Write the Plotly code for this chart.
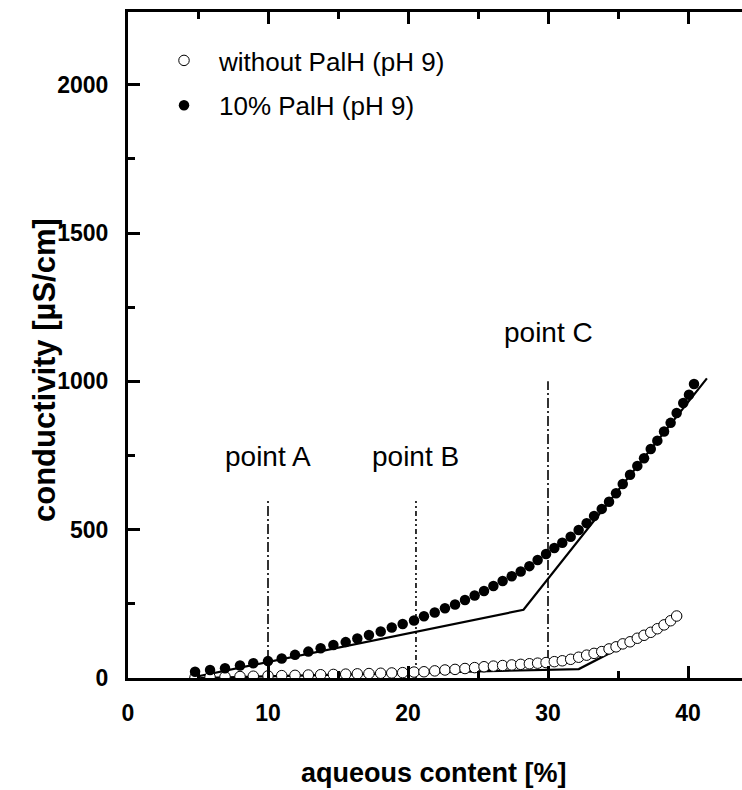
import plotly.graph_objects as go

# ---------------- data ----------------
x_filled = [4.79, 5.86, 6.93, 8.00, 8.95, 10.00, 10.98, 11.93, 12.88, 13.76,
            14.67, 15.55, 16.38, 17.21, 18.05, 18.84, 19.62, 20.43, 21.14, 21.91,
            22.64, 23.36, 24.07, 24.76, 25.43, 26.10, 26.76, 27.41, 28.05, 28.67,
            29.26, 29.86, 30.45, 31.02, 31.62, 32.19, 32.76, 33.29, 33.84, 34.36,
            34.86, 35.34, 35.86, 36.38, 36.86, 37.34, 37.81, 38.29, 38.76, 39.19,
            39.66, 40.07, 40.43]
y_filled = [21, 27, 33, 42, 50, 57, 66, 78, 89, 100,
            111, 121, 133, 145, 157, 170, 182, 194, 208, 221,
            235, 248, 263, 278, 293, 310, 327, 343, 359, 377,
            398, 418, 438, 456, 476, 499, 522, 546, 570, 594,
            623, 654, 685, 715, 741, 772, 800, 831, 860, 893,
            927, 955, 991]

x_open = x_filled[:50]
y_open = [2, 3, 4, 5, 6, 7, 8, 9, 10, 11,
          12, 13, 14, 15, 16, 17, 18, 20, 21, 24,
          27, 29, 32, 35, 38, 40, 42, 44, 46, 48,
          50, 52, 55, 58, 63, 70, 77, 83, 89, 98,
          105, 115, 122, 134, 144, 154, 166, 179, 193, 209]

fit_filled_x = [4.4, 28.25, 41.35]
fit_filled_y = [0, 230, 1010]
fit_open_x = [5.0, 32.2, 39.55]
fit_open_y = [0, 30, 209]

point_labels = ["point A", "point B", "point C"]
point_x = [10, 20.57, 30]
point_top = [600, 600, 1000]

series_names = ["without PalH (pH 9)", "10% PalH (pH 9)"]
x_title = "aqueous content [%]"
y_title = "conductivity [µS/cm]"

# ---------------- figure ----------------
FONT = "Liberation Sans, Arial, sans-serif"
fig = go.Figure()

dashes = ["10px,3px,2px,3px", "5px,3px,2px,3px,2px,3px", "10px,3px,2px,3px"]
for px_, top, d in zip(point_x, point_top, dashes):
    fig.add_trace(go.Scatter(x=[px_, px_], y=[0, top], mode="lines",
                             line=dict(color="black", width=1.6, dash=d),
                             showlegend=False, hoverinfo="skip"))

fig.add_trace(go.Scatter(x=fit_open_x, y=fit_open_y, mode="lines",
                         line=dict(color="black", width=2.2),
                         showlegend=False, hoverinfo="skip"))
fig.add_trace(go.Scatter(x=fit_filled_x, y=fit_filled_y, mode="lines",
                         line=dict(color="black", width=2.2),
                         showlegend=False, hoverinfo="skip"))

fig.add_trace(go.Scatter(x=x_open, y=y_open, mode="markers", name=series_names[0],
                         legendgroup="a",
                         marker=dict(symbol="circle", size=10.5, color="white",
                                     line=dict(color="black", width=1))))
fig.add_trace(go.Scatter(x=x_filled, y=y_filled, mode="markers", name=series_names[1],
                         legendgroup="b",
                         marker=dict(symbol="circle", size=10.5, color="black",
                                     line=dict(color="black", width=0))))

for lab, px_, ylab in zip(point_labels, point_x, [746, 746, 1164]):
    fig.add_annotation(x=px_, y=ylab, text=lab, showarrow=False,
                       xanchor="center", yanchor="middle",
                       font=dict(family=FONT, size=28, color="black"))

W, H = 742, 790
L, R, T, B = 128, 0, 12, 112
pw, ph = W - L - R, H - T - B

fig.add_annotation(xref="paper", yref="paper", x=(434 - L) / pw, y=(H - B - 773) / ph,
                   text=x_title, showarrow=False, xanchor="center", yanchor="middle",
                   font=dict(family=FONT, size=27, color="black", weight="bold"))
fig.add_annotation(xref="paper", yref="paper", x=(44 - L) / pw, y=(H - B - 370) / ph,
                   text=y_title, showarrow=False, textangle=-90,
                   xanchor="center", yanchor="middle",
                   font=dict(family=FONT, size=31, color="black", weight="bold"))

axis_common = dict(showgrid=False, zeroline=False, showline=True, linecolor="black",
                   linewidth=3, ticks="inside", ticklen=12, tickwidth=2.5,
                   tickcolor="black",
                   tickfont=dict(family=FONT, size=23, color="black", weight="bold"))

fig.update_xaxes(range=[0, 614 / 14], tick0=0, dtick=10, mirror="ticks",
                 minor=dict(dtick=5, ticks="inside", ticklen=7, tickwidth=2.5,
                            tickcolor="black"),
                 ticklabelstandoff=12, **axis_common)
fig.update_yaxes(range=[0, 666 / 0.29667], tick0=0, dtick=500,
                 minor=dict(dtick=250, ticks="inside", ticklen=7, tickwidth=2.5,
                            tickcolor="black"),
                 ticklabelstandoff=12, **axis_common)

fig.update_layout(
    width=W, height=H,
    margin=dict(l=L, r=R, t=T, b=B, autoexpand=False),
    paper_bgcolor="white", plot_bgcolor="white",
    showlegend=True,
    legend=dict(x=(149 - L) / pw, y=(H - B - 37) / ph, xanchor="left", yanchor="top",
                bgcolor="rgba(0,0,0,0)", tracegroupgap=8, itemwidth=60,
                font=dict(family=FONT, size=26, color="black")),
)

fig.write_html("out.html")
